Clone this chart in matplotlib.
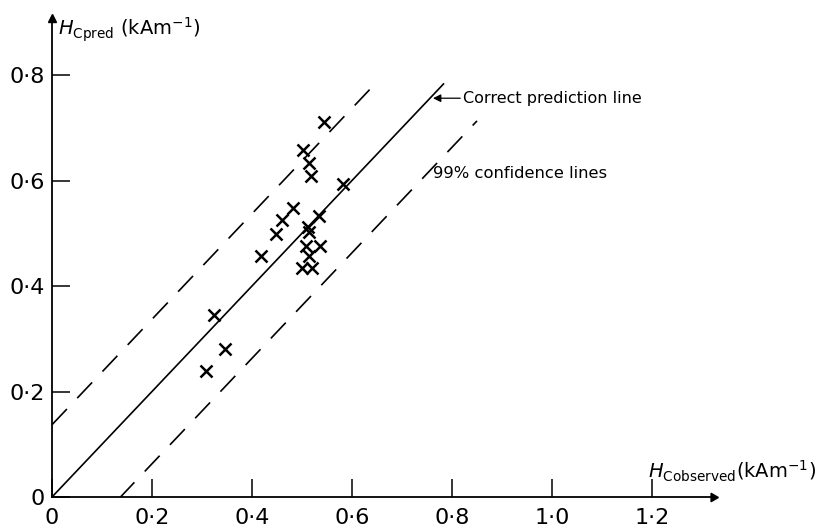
import matplotlib.pyplot as plt
import numpy as np

# ---- data ----
h_obs = [0.543, 0.501, 0.514, 0.517, 0.583, 0.481, 0.459, 0.534, 0.447, 0.511,
         0.513, 0.507, 0.536, 0.417, 0.513, 0.499, 0.519, 0.323, 0.347, 0.309]
h_pred = [0.710, 0.657, 0.634, 0.609, 0.593, 0.548, 0.525, 0.533, 0.498, 0.511,
          0.503, 0.476, 0.476, 0.456, 0.456, 0.435, 0.435, 0.345, 0.280, 0.239]

correct_x = [0.0, 0.783]
upper_x = [0.0, 0.64]
lower_x = [0.135, 0.85]
conf_offset = 0.137

xticks = [0, 0.2, 0.4, 0.6, 0.8, 1.0, 1.2]
xtick_labels = ['0', '0·2', '0·4', '0·6', '0·8', '1·0', '1·2']
yticks = [0, 0.2, 0.4, 0.6, 0.8]
ytick_labels = ['0', '0·2', '0·4', '0·6', '0·8']

W, H = 823, 530
fig = plt.figure(figsize=(W / 100, H / 100), dpi=100)
# axes placed so origin sits at pixel (52, 497)
x0, y0 = 52, 497
ax = fig.add_axes([x0 / W, (H - y0) / H, 661 / W, 479 / H])
ax.set_xlim(0, 661 / 500)
ax.set_ylim(0, 479 / 527.5)

ax.spines['top'].set_visible(False)
ax.spines['right'].set_visible(False)
for s in ['left', 'bottom']:
    ax.spines[s].set_linewidth(1.3)

# axis arrows
ax.plot(1, 0, marker=(3, 0, -90), ms=7, color='k', transform=ax.transAxes, clip_on=False)
ax.plot(0, 1, marker='^', ms=6, color='k', transform=ax.transAxes, clip_on=False)

# lines
cx = np.array(correct_x)
ax.plot(cx, cx, color='k', lw=1.2)
ux = np.array(upper_x)
ax.plot(ux, ux + conf_offset, color='k', lw=1.2, dashes=(13, 9))
lx = np.array(lower_x)
ax.plot(lx, lx - conf_offset, color='k', lw=1.2, dashes=(13, 9))

# data points
ax.plot(h_obs, h_pred, linestyle='none', marker='x', ms=8, mew=1.8, color='k')

ax.set_xticks(xticks)
ax.set_xticklabels(xtick_labels)
ax.set_yticks(yticks)
ax.set_yticklabels(ytick_labels)
ax.tick_params(direction='in', length=13, width=1.1, labelsize=16)
ax.tick_params(axis='x', pad=8)
ax.tick_params(axis='y', pad=5)

# axis titles
fig.text(58 / W, 1 - 30 / H, r'$\mathit{H}_{\mathrm{Cpred}}$ (kAm$^{-1}$)',
         fontsize=14, va='center', ha='left')
fig.text(648 / W, 1 - 471 / H, r'$\mathit{H}_{\mathrm{Cobserved}}$(kAm$^{-1}$)',
         fontsize=14, va='center', ha='left')

# annotations
ax.annotate('Correct prediction line', xy=(0.762, 0.756), xytext=(0.822, 0.756),
            fontsize=11.5, va='center', ha='left',
            arrowprops=dict(arrowstyle='-|>', color='k', lw=0.9, shrinkA=0, shrinkB=0))
ax.text(0.763, 0.613, '99% confidence lines', fontsize=11.8, va='center', ha='left')

fig.savefig('out.png', dpi=100)
